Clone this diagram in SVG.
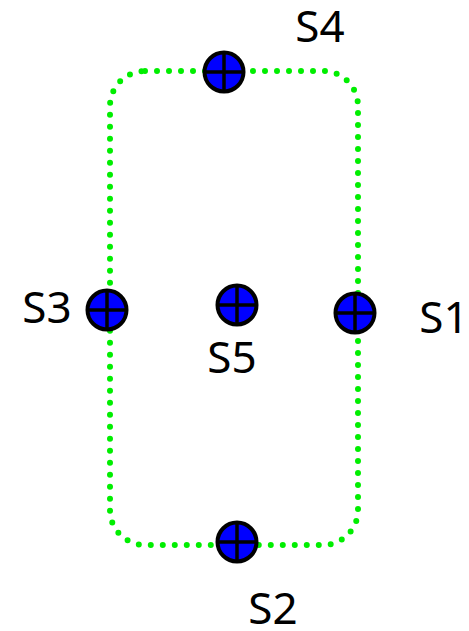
<svg xmlns="http://www.w3.org/2000/svg" width="469" height="631" viewBox="0 0 469 631">
<defs>
<style>
.link{fill:none;stroke:#00ee00;stroke-width:6;stroke-linecap:round;stroke-dasharray:0 12}
.disk{fill:#0000ff;stroke:#000;stroke-width:4}
.bar{stroke:#000;stroke-width:3.5}
.lbl{font-family:"Noto Sans","DejaVu Sans",sans-serif;font-size:44px;fill:#000;text-anchor:middle}
</style>
<g id="sym">
<circle class="disk" cx="0" cy="0" r="19.5"/>
<line class="bar" x1="-19.5" y1="0" x2="19.5" y2="0"/>
<line class="bar" x1="0" y1="-19.5" x2="0" y2="19.5"/>
</g>
</defs>
<rect width="469" height="631" fill="#fff"/>
<g id="connectors">
<rect class="link" x="110" y="71" width="248" height="474" rx="35" ry="35"/>
</g>
<g id="S4" class="node">
<use href="#sym" x="224" y="72"/>
<text class="lbl" x="320" y="42">S4</text>
</g>
<g id="S3" class="node">
<use href="#sym" x="107" y="310"/>
<text class="lbl" x="47" y="323">S3</text>
</g>
<g id="S5" class="node">
<use href="#sym" x="237" y="305"/>
<text class="lbl" x="232" y="373">S5</text>
</g>
<g id="S1" class="node">
<use href="#sym" x="355" y="313"/>
<text class="lbl" x="444" y="333">S1</text>
</g>
<g id="S2" class="node">
<use href="#sym" x="237" y="542"/>
<text class="lbl" x="273" y="624">S2</text>
</g>
</svg>
